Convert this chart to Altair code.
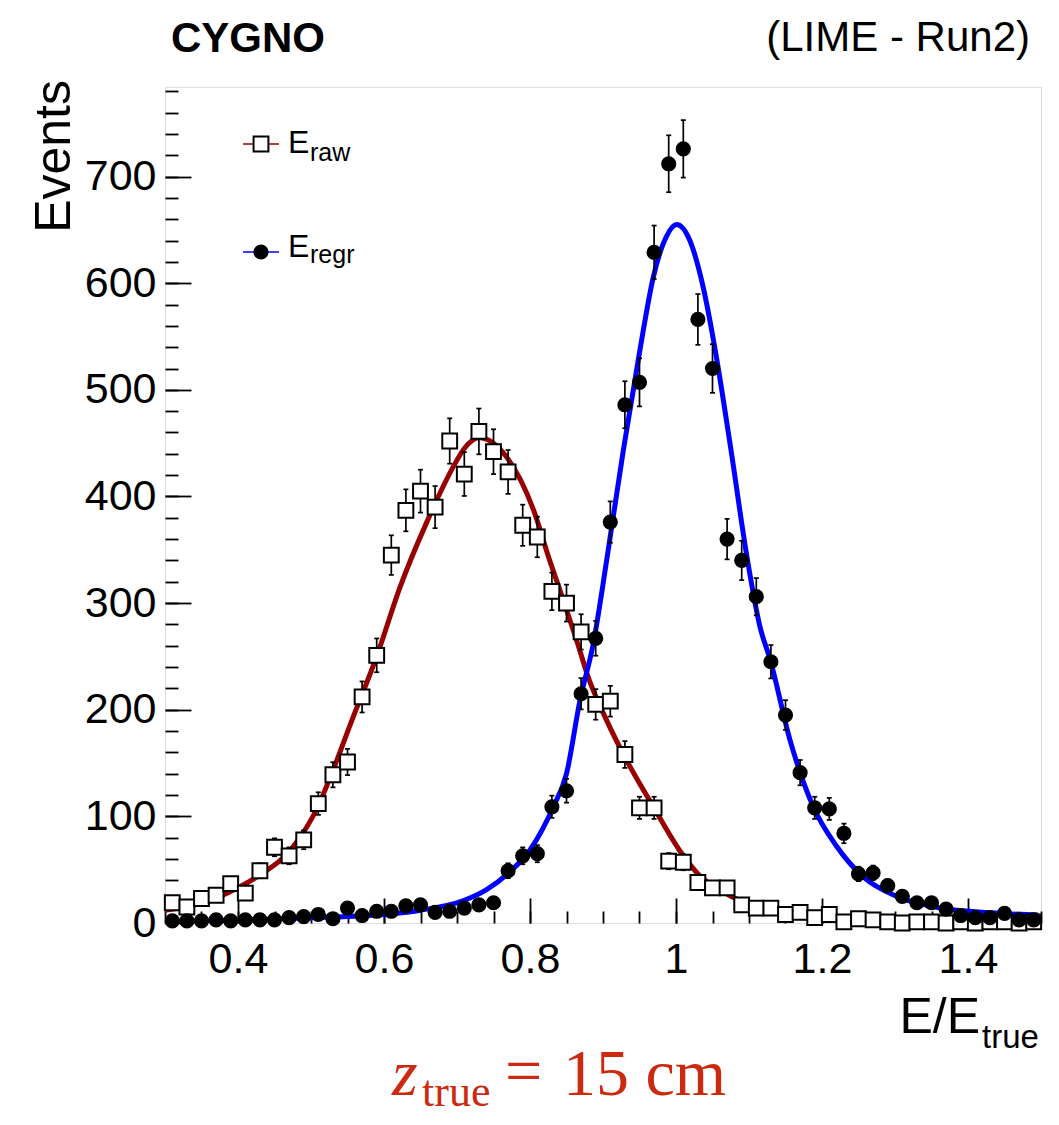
import altair as alt
import pandas as pd
import numpy as np

# ---------------- data ----------------
bin_center = [0.31, 0.33, 0.35, 0.37, 0.39, 0.41, 0.43, 0.45, 0.47, 0.49,
              0.51, 0.53, 0.55, 0.57, 0.59, 0.61, 0.63, 0.65, 0.67, 0.69,
              0.71, 0.73, 0.75, 0.77, 0.79, 0.81, 0.83, 0.85, 0.87, 0.89,
              0.91, 0.93, 0.95, 0.97, 0.99, 1.01, 1.03, 1.05, 1.07, 1.09,
              1.11, 1.13, 1.15, 1.17, 1.19, 1.21, 1.23, 1.25, 1.27, 1.29,
              1.31, 1.33, 1.35, 1.37, 1.39, 1.41, 1.43, 1.45, 1.47, 1.49]

raw_counts = [19, 15, 23, 26, 37, 28, 49, 71, 63, 78,
              112, 139, 151, 212, 251, 345, 387, 405, 390, 452,
              421, 461, 442, 423, 373, 362, 311, 300, 273, 205,
              208, 158, 108, 108, 58, 57, 38, 33, 33, 17,
              14, 14, 8, 10, 5, 8, 1, 4, 3, 1,
              0, 1, 1, 0, 1, 0, 1, 1, 0, 1]

regr_counts = [2, 2, 2, 3, 2, 3, 3, 3, 5, 6,
               8, 4, 14, 7, 11, 11, 16, 17, 10, 11,
               14, 17, 19, 49, 63, 65, 109, 124, 215, 267,
               376, 486, 507, 629, 712, 726, 566, 520, 360, 340,
               306, 245, 195, 141, 108, 107, 84, 46, 47, 35,
               25, 19, 19, 13, 7, 5, 5, 9, 3, 3]

# fitted curves
raw_fit_x = [0.30, 0.35, 0.40, 0.43, 0.475, 0.51, 0.53, 0.556, 0.59, 0.622,
             0.658, 0.695, 0.71, 0.73, 0.75, 0.768, 0.805, 0.827, 0.841, 0.868,
             0.878, 0.905, 0.932, 0.969, 1.005, 1.033, 1.065, 1.11, 1.156, 1.225,
             1.29, 1.40, 1.50]
raw_fit_y = [12, 18.5, 33, 45, 71, 110, 143, 190, 250, 315,
             375, 428, 445, 455, 450, 437, 387, 340, 312, 256,
             234, 190, 153, 109, 68, 44, 29, 15, 8.4, 3.4,
             2, 1.3, 1]

regr_fit_x = [0.30, 0.40, 0.50, 0.55, 0.60, 0.65, 0.709, 0.74, 0.77, 0.80,
              0.832, 0.85, 0.8685, 0.8867, 0.905, 0.928, 0.95, 0.969, 0.987, 1.001,
              1.019, 1.037, 1.056, 1.075, 1.098, 1.115, 1.129, 1.156, 1.188, 1.22,
              1.257, 1.302, 1.362, 1.43, 1.496]
regr_fit_y = [1, 2.5, 5, 6, 8, 12, 21, 31, 46.6, 68.5,
              109, 140, 209, 262, 340, 444, 535, 606, 644, 655,
              640, 597, 528, 445, 340, 278, 247, 172, 109, 72,
              43, 25, 14, 9.7, 7.5]

y_label_values = [0, 100, 200, 300, 400, 500, 600, 700]
x_label_values = [0.4, 0.6, 0.8, 1.0, 1.2, 1.4]
y_minor_values = list(range(0, 781, 20))
x_minor_values = [0.30, 0.35, 0.40, 0.45, 0.50, 0.55, 0.60, 0.65, 0.70, 0.75,
                  0.80, 0.85, 0.90, 0.95, 1.00, 1.05, 1.10, 1.15, 1.20, 1.25,
                  1.30, 1.35, 1.40, 1.45, 1.50]

# ---------------- layout ----------------
W, H = 876, 836
XDOM = [0.3, 1.5]
YDOM = [0, 784]
SANS = "Liberation Sans"
SERIF = "Liberation Serif"
RED = "#990000"
BLUE = "#0000ff"
ZRED = "#cc2a10"
DOT = 230
SQ = 220

raw_df = pd.DataFrame({"x": bin_center, "n": raw_counts})
raw_df["lo"] = raw_df["n"] - np.sqrt(raw_df["n"])
raw_df["hi"] = raw_df["n"] + np.sqrt(raw_df["n"])
regr_df = pd.DataFrame({"x": bin_center, "n": regr_counts})
regr_df["lo"] = regr_df["n"] - np.sqrt(regr_df["n"])
regr_df["hi"] = regr_df["n"] + np.sqrt(regr_df["n"])
raw_fit = pd.DataFrame({"x": raw_fit_x, "y": raw_fit_y})
regr_fit = pd.DataFrame({"x": regr_fit_x, "y": regr_fit_y})

xs = alt.Scale(domain=XDOM, nice=False, zero=False)
ys = alt.Scale(domain=YDOM, nice=False, zero=False)

common_ax = dict(grid=False, domain=False, title=None)
ax_x_lab = alt.Axis(orient="bottom", values=x_label_values, format=".1~f", ticks=False,
                    labelFontSize=43, labelFont=SANS, labelColor="black", labelPadding=15,
                    labelFlush=False, labelOverlap=False, **common_ax)
ax_x_maj = alt.Axis(orient="top", offset=-H, values=x_label_values, labels=False,
                    ticks=True, tickSize=25, tickWidth=1.8, tickColor="black", **common_ax)
ax_x_min = alt.Axis(orient="top", offset=-H, values=x_minor_values, labels=False,
                    ticks=True, tickSize=12, tickWidth=1.8, tickColor="black", **common_ax)
ax_y_lab = alt.Axis(orient="left", values=y_label_values, ticks=False,
                    labelFontSize=43, labelFont=SANS, labelColor="black", labelPadding=9,
                    labelFlush=False, labelOverlap=False, **common_ax)
ax_y_maj = alt.Axis(orient="right", offset=-W, values=y_label_values, labels=False,
                    ticks=True, tickSize=26, tickWidth=1.8, tickColor="black", **common_ax)
ax_y_min = alt.Axis(orient="right", offset=-W, values=y_minor_values, labels=False,
                    ticks=True, tickSize=13, tickWidth=1.8, tickColor="black", **common_ax)

# fit curves
red_curve = alt.Chart(raw_fit).mark_line(color=RED, strokeWidth=5, interpolate="monotone", clip=True).encode(
    x=alt.X("x:Q", scale=xs, axis=ax_x_lab),
    y=alt.Y("y:Q", scale=ys, axis=ax_y_lab),
)
blue_curve = alt.Chart(regr_fit).mark_line(color=BLUE, strokeWidth=5, interpolate="monotone", clip=True).encode(
    x=alt.X("x:Q", scale=xs, axis=ax_x_maj),
    y=alt.Y("y:Q", scale=ys, axis=ax_y_maj),
)

def errbars(df, ax_x=None, ax_y=None):
    bar = alt.Chart(df).mark_rule(color="black", strokeWidth=1.7).encode(
        x=alt.X("x:Q", scale=xs, axis=ax_x),
        y=alt.Y("lo:Q", scale=ys, axis=ax_y),
        y2="hi:Q",
    )
    cap_hi = alt.Chart(df).mark_rule(color="black", strokeWidth=1.7, xOffset=-2.5, x2Offset=2.5).encode(
        x=alt.X("x:Q", scale=xs, axis=None), x2="x:Q",
        y=alt.Y("hi:Q", scale=ys, axis=None),
    )
    cap_lo = alt.Chart(df).mark_rule(color="black", strokeWidth=1.7, xOffset=-2.5, x2Offset=2.5).encode(
        x=alt.X("x:Q", scale=xs, axis=None), x2="x:Q",
        y=alt.Y("lo:Q", scale=ys, axis=None),
    )
    return [bar, cap_hi, cap_lo]

raw_err = errbars(raw_df, ax_x_min, ax_y_min)
regr_err = errbars(regr_df)

raw_pts = alt.Chart(raw_df).mark_point(shape="square", filled=True, fill="white", stroke="black",
                                       strokeWidth=2, size=SQ, opacity=1).encode(
    x=alt.X("x:Q", scale=xs, axis=None),
    y=alt.Y("n:Q", scale=ys, axis=None),
)
regr_pts = alt.Chart(regr_df).mark_circle(size=DOT, color="black", opacity=1).encode(
    x=alt.X("x:Q", scale=xs, axis=None),
    y=alt.Y("n:Q", scale=ys, axis=None),
)

one = pd.DataFrame({"k": [0]})

def txt(s, x, y, size, font=SANS, weight="normal", style="normal", align="left",
        baseline="alphabetic", color="black", angle=0):
    return alt.Chart(one).mark_text(text=s, font=font, fontSize=size, fontWeight=weight,
                                    fontStyle=style, align=align, baseline=baseline,
                                    color=color, angle=angle).encode(
        x=alt.value(x), y=alt.value(y))

# legend glyphs (plot-relative pixels)
leg = [
    alt.Chart(one).mark_rule(color=RED, strokeWidth=1.5).encode(
        x=alt.value(78), x2=alt.value(114), y=alt.value(57)),
    alt.Chart(one).mark_point(shape="square", filled=True, fill="white", stroke="black",
                              strokeWidth=2, size=SQ, opacity=1).encode(
        x=alt.value(96), y=alt.value(57)),
    alt.Chart(one).mark_rule(color=BLUE, strokeWidth=1.5).encode(
        x=alt.value(78), x2=alt.value(114), y=alt.value(165)),
    alt.Chart(one).mark_circle(size=DOT, color="black", opacity=1).encode(
        x=alt.value(96), y=alt.value(165)),
    txt("E", 123, 66, 32),
    txt("raw", 145, 74, 25),
    txt("E", 123, 170, 32),
    txt("regr", 145, 176, 25),
]

labels = [
    txt("CYGNO", 6, -35, 42, weight="bold"),
    txt("(LIME - Run2)", 865, -36, 42, align="right"),
    txt("Events", -95, -7, 50, align="right", angle=270),
    txt("E/E", 815, 946, 50, align="right"),
    txt("true", 817, 961, 33),
    txt("z", 227, 1008, 66, font=SERIF, style="italic", color=ZRED),
    txt("true", 257, 1019, 44, font=SERIF, color=ZRED),
    txt("=", 340, 1006, 66, font=SERIF, color=ZRED),
    txt("15 cm", 398, 1008, 66, font=SERIF, color=ZRED),
]

layers = [red_curve, blue_curve] + raw_err + [raw_pts] + regr_err + [regr_pts] + leg + labels

chart = alt.layer(*layers).resolve_axis(x="independent", y="independent").properties(
    width=W, height=H,
    autosize=alt.AutoSizeParams(type="none"),
    padding={"left": 157, "top": 79, "right": 10, "bottom": 194},
).configure_view(stroke="black", strokeWidth=2).configure(background="white")

chart.save("out.html", embed_options={"renderer": "svg", "actions": False})
